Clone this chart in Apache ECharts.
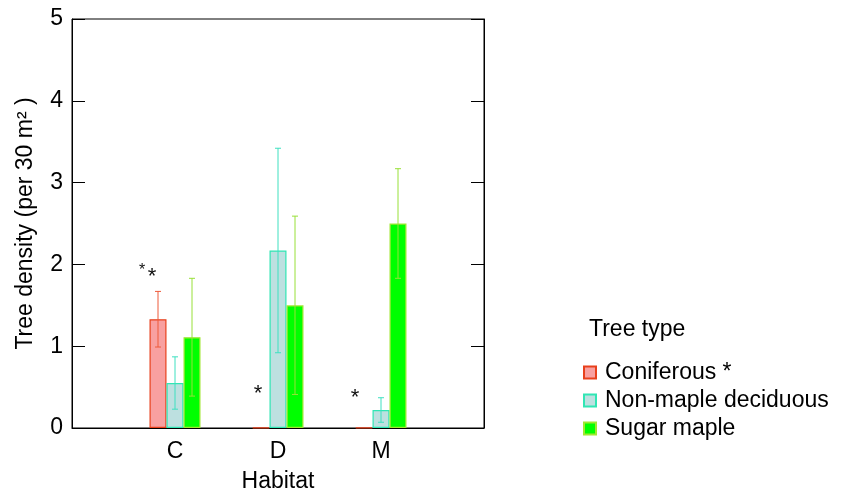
<!DOCTYPE html>
<html><head><meta charset="utf-8">
<script src="https://cdn.jsdelivr.net/npm/echarts@6/dist/echarts.min.js"></script>
<style>html,body{margin:0;padding:0;background:#fff}#c{width:847px;height:491px}</style>
</head><body><div id="c"></div>
<script>
const categories = ['', 'C', 'D', 'M', ''];
const seriesNames = ['Coniferous *', 'Non-maple deciduous', 'Sugar maple'];
const coniferous = [null, 1.33, 0.005, 0.005, null];
const nonMaple   = [null, 0.55, 2.17, 0.22, null];
const sugarMaple = [null, 1.11, 1.50, 2.50, null];
const coniferousErr = [null, 0.34, 0, 0, null];
const nonMapleErr   = [null, 0.32, 1.25, 0.15, null];
const sugarMapleErr = [null, 0.72, 1.09, 0.67, null];
const yTicks = [0, 1, 2, 3, 4, 5];
// significance asterisks: [category index, value, size]
const stars = [[1, 2.02, 'small'], [1, 1.98, 'big'], [2, 0.55, 'big'], [3, 0.50, 'big']];
const starDx = [-33, -23, -20, -26];

const FONT = '"Liberation Sans", Arial, sans-serif';
const FS = 23;
const fills = ['#f8a0a0', '#bde0e0', '#00ff00'];
const borders = ['#e8401c', '#30e6b4', '#a0e830'];
const errColors = ['#ee5a3a', '#3ee0c0', '#98e038'];
const BW = 17;

const chart = echarts.init(document.getElementById('c'));
const vals = [coniferous, nonMaple, sugarMaple];
const errs = [coniferousErr, nonMapleErr, sugarMapleErr];

const barSeries = vals.map((v, i) => ({
  name: seriesNames[i], type: 'bar', data: v, barWidth: BW, barGap: '0%',
  itemStyle: { color: fills[i], borderColor: borders[i], borderWidth: 1.2 },
  z: 2
}));

const errSeries = vals.map((v, i) => ({
  type: 'custom', name: 'err' + i, silent: true, z: 3,
  data: v.map((y, k) => (y == null || !errs[i][k]) ? null : [k, y - errs[i][k], y + errs[i][k]]).filter(d => d),
  renderItem: function (params, api) {
    const x = api.coord([api.value(0), 0])[0] + (i - 1) * BW;
    const lo = api.coord([api.value(0), api.value(1)])[1];
    const hi = api.coord([api.value(0), api.value(2)])[1];
    const st = { stroke: errColors[i], lineWidth: 1 };
    return { type: 'group', children: [
      { type: 'line', shape: { x1: x, y1: lo, x2: x, y2: hi }, style: st },
      { type: 'line', shape: { x1: x - 3, y1: lo, x2: x + 3, y2: lo }, style: st },
      { type: 'line', shape: { x1: x - 3, y1: hi, x2: x + 3, y2: hi }, style: st }
    ]};
  }
}));

const starSeries = {
  type: 'custom', silent: true, z: 4,
  data: stars.map(s => [s[0], s[1]]),
  renderItem: function (params, api) {
    const p = api.coord([api.value(0), api.value(1)]);
    const s = stars[params.dataIndex];
    return { type: 'text', x: p[0] + starDx[params.dataIndex], y: p[1],
      style: { text: '*', fill: '#111', font: (s[2] === 'big' ? 22 : 16) + 'px ' + FONT,
        align: 'center', verticalAlign: 'top' } };
  }
};

chart.setOption({
  animation: false,
  textStyle: { fontFamily: FONT },
  title: { text: 'Tree type', left: 584, top: 313,
    textStyle: { fontSize: FS, fontWeight: 'normal', color: '#000', fontFamily: FONT } },
  legend: {
    data: seriesNames, orient: 'vertical', left: 578, top: 356,
    itemWidth: 12, itemHeight: 12, itemGap: 5, icon: 'rect',
    textStyle: { fontSize: FS, color: '#000', padding: [0, 0, 0, 4] }
  },
  grid: { left: 72, right: 363, top: 19, bottom: 63, show: true, borderColor: '#000', borderWidth: 1,
    containLabel: false, outerBoundsMode: 'none' },
  xAxis: {
    type: 'category', data: categories, boundaryGap: false,
    axisLine: { lineStyle: { color: '#000' } }, axisTick: { show: false },
    axisLabel: { fontSize: FS, color: '#000', margin: 12, interval: 0 },
    name: 'Habitat', nameLocation: 'middle', nameGap: 42,
    nameTextStyle: { fontSize: FS, color: '#000' }
  },
  yAxis: [{
    type: 'value', min: 0, max: 5, interval: 1,
    axisLine: { show: true, lineStyle: { color: '#000' } },
    axisTick: { show: true, inside: true, length: 13, lineStyle: { color: '#000' } },
    splitLine: { show: false },
    axisLabel: { fontSize: FS, color: '#000', margin: 9 },
    name: 'Tree density (per 30 m² )', nameLocation: 'middle', nameGap: 35,
    nameTextStyle: { fontSize: FS, color: '#000' }
  }, {
    type: 'value', min: 0, max: 5, interval: 1, position: 'right',
    axisLine: { show: true, lineStyle: { color: '#000' } },
    axisTick: { show: true, inside: true, length: 13, lineStyle: { color: '#000' } },
    splitLine: { show: false }, axisLabel: { show: false }
  }],
  series: [...barSeries, ...errSeries, starSeries]
});
</script></body></html>
